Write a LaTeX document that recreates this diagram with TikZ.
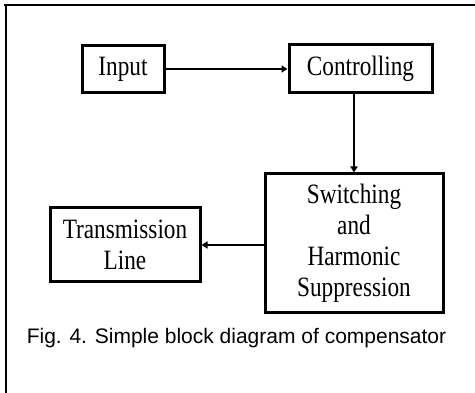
\documentclass[tikz,border=0pt]{standalone}
\usepackage{fontspec}
\setmainfont{Liberation Serif}
\newfontfamily\blockfont[FakeStretch=0.83]{Liberation Serif}
\newfontfamily\captionfont{Liberation Sans}
\usetikzlibrary{arrows.meta, positioning, calc}
\tikzset{
	block/.style={rectangle, draw, line width=3pt, align=center, inner sep=0pt, font=\blockfont\fontsize{28}{31}\selectfont},
	line/.style={draw, line width=2.3pt, -{Triangle[length=6pt, width=7pt]}}
}

\begin{document}
\begin{tikzpicture}[
	x=1pt, y=-1pt,
	% --- Style Definitions ---
	frame/.style={line width=2pt, black},
	caption/.style={font=\captionfont\fontsize{21}{25}\selectfont, inner sep=0pt},
	]
	
	% --- Canvas ---
	\useasboundingbox (0,0) rectangle (475,393);
	\draw[frame] (4,5) -- (475,5);
	\draw[frame] (6,4) -- (6,393);
	
	% --- Blocks ---
	\node[block, minimum width=82pt, minimum height=47pt] (inp) at (123,69) {Input};
	\node[block, minimum width=143pt, minimum height=48pt] (ctrl) at (360.5,69) {Controlling};
	\node[block, minimum width=178pt, minimum height=139pt] (sw) at (354,243.5) {Switching\\and\\Harmonic\\Suppression};
	\node[block, minimum width=150pt, minimum height=74pt] (tl) at (125,245) {Transmission\\Line};
	
	% --- Connectors ---
	\draw[line] (inp.east) -- (ctrl.west);
	\draw[line] (ctrl.south -| sw.north) -- (sw.north);
	\draw[line] (sw.west |- tl.east) -- (tl.east);
	
	% --- Caption ---
	\node[caption] (cap) at (236.5,338) {Fig. 4. Simple block diagram of compensator};
	
\end{tikzpicture}
\end{document}
